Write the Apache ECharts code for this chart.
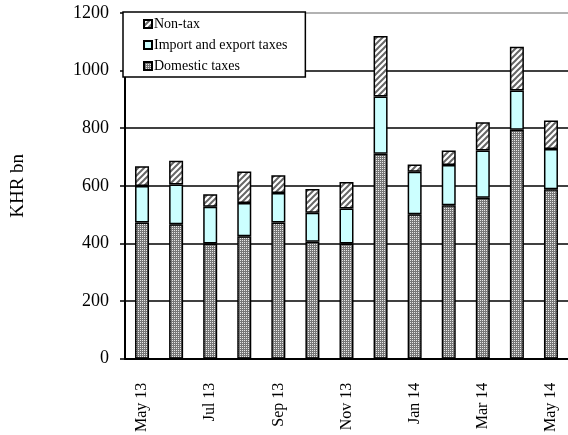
<!DOCTYPE html>
<html>
<head>
<meta charset="utf-8">
<script src="https://cdn.jsdelivr.net/npm/echarts@6/dist/echarts.min.js"></script>
<style>
html,body{margin:0;padding:0;background:#fff;}
#c{width:568px;height:435px;}
</style>
</head>
<body>
<div id="c"></div>
<script>
const categories = ['May 13','Jun 13','Jul 13','Aug 13','Sep 13','Oct 13','Nov 13','Dec 13','Jan 14','Feb 14','Mar 14','Apr 14','May 14'];
const domesticTaxes = [473,467,400,425,473,406,400,711,501,533,559,795,588];
const importExportTaxes = [126,138,127,115,102,101,121,199,148,139,164,136,140];
const nonTax = [69,82,44,110,62,82,92,210,25,51,98,152,99];
const yTicks = {min:0, max:1200, interval:200};

function checker(){
  const c=document.createElement('canvas'); c.width=2; c.height=2;
  const g=c.getContext('2d');
  g.fillStyle='#777'; g.fillRect(0,0,2,2);
  g.fillStyle='#e8e8e8'; g.fillRect(0,0,1,1);
  return c;
}
function hatch(){
  const s=6;
  const c=document.createElement('canvas'); c.width=s; c.height=s;
  const g=c.getContext('2d');
  g.fillStyle='#fff'; g.fillRect(0,0,s,s);
  g.strokeStyle='#666'; g.lineWidth=2;
  g.beginPath();
  g.moveTo(0,s); g.lineTo(s,0);
  g.moveTo(-s/2,s/2); g.lineTo(s/2,-s/2);
  g.moveTo(s/2,s*1.5); g.lineTo(s*1.5,s/2);
  g.stroke();
  return c;
}
const font='"Liberation Serif","Times New Roman",serif';
const chart=echarts.init(document.getElementById('c'));
chart.setOption({
  animation:false,
  backgroundColor:'#fff',
  grid:{left:125,top:13,bottom:75,width:446},
  legend:{
    left:123, top:12, orient:'vertical',
    data:['Non-tax','Import and export taxes','Domestic taxes'],
    backgroundColor:'#fff', borderColor:'#000', borderWidth:1.5,
    padding:[5,18,4,20], itemGap:7, itemWidth:8, itemHeight:8, icon:'rect',
    textStyle:{fontFamily:font,fontSize:14,color:'#000',padding:[0,0,0,-3]},
    z:10
  },
  xAxis:{
    type:'category', data:categories, boundaryGap:true,
    axisLine:{lineStyle:{color:'#000',width:2}},
    axisTick:{interval:1,length:5,lineStyle:{color:'#000',width:1.5}},
    axisLabel:{interval:1,rotate:90,margin:24,fontFamily:font,fontSize:16,color:'#000'}
  },
  yAxis:{
    type:'value', min:yTicks.min, max:yTicks.max, interval:yTicks.interval,
    name:'KHR bn', nameLocation:'middle', nameRotate:90, nameGap:97,
    nameTextStyle:{fontFamily:font,fontSize:19,color:'#000'},
    axisLine:{show:true,lineStyle:{color:'#000',width:2}},
    axisTick:{show:true,length:5,lineStyle:{color:'#000',width:1.5}},
    axisLabel:{margin:16,fontFamily:font,fontSize:18,color:'#000',formatter:function(v){return String(v);}},
    splitLine:{lineStyle:{color:['#000','#000','#000','#000','#000','#000','#999'],width:1.5}}
  },
  series:[
    {type:'bar',stack:'t',barWidth:14,name:'Domestic taxes',data:domesticTaxes,itemStyle:{borderColor:'#000',borderWidth:1.5,color:{image:checker(),repeat:'repeat'}}},
    {type:'bar',stack:'t',barWidth:14,name:'Import and export taxes',data:importExportTaxes,itemStyle:{borderColor:'#000',borderWidth:1.5,color:'#ccffff'}},
    {type:'bar',stack:'t',barWidth:14,name:'Non-tax',data:nonTax,itemStyle:{borderColor:'#000',borderWidth:1.5,color:{image:hatch(),repeat:'repeat'}}}
  ]
});
</script>
</body>
</html>
